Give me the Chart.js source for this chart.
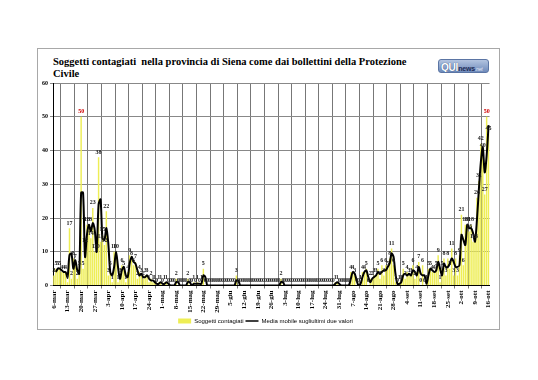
<!DOCTYPE html>
<html>
<head>
<meta charset="utf-8">
<script src="https://cdn.jsdelivr.net/npm/chart.js@4.4.0/dist/chart.umd.min.js"></script>
<style>
body{margin:0;background:#fff;width:538px;height:380px;overflow:hidden;position:relative;}
#frame{position:absolute;left:37px;top:48px;width:463px;height:282px;border:1px solid #a8a8a8;box-sizing:border-box;}
#titolo{position:absolute;left:53px;top:56px;font:bold 10.5px/11.6px "Liberation Serif",serif;color:#000;white-space:pre;}
#logo{position:absolute;left:438px;top:59px;width:51px;height:14px;border-radius:3px;box-sizing:border-box;
  background:linear-gradient(#b3c4e0,#6f8bbb);border:1px solid #5b75a4;font-family:"Liberation Sans",sans-serif;
  line-height:12px;padding-left:2px;white-space:nowrap;overflow:hidden;letter-spacing:-0.2px;}
#logo .qui{color:#fff;font-weight:bold;font-size:10px;text-shadow:0 0 1px #243b6b;}
#logo .news{color:#1d2b57;font-weight:bold;font-size:7px;}
#logo .net{color:#e5ecf7;font-size:5px;font-style:italic;}
#wrap{position:absolute;left:38px;top:49px;width:461px;height:285px;}
</style>
</head>
<body>
<div id="frame"></div>
<div id="titolo">Soggetti contagiati  nella provincia di Siena come dai bollettini della Protezione
Civile</div>
<div id="logo"><span class="qui">QUI</span><span class="news">news</span><span class="net">.net</span></div>
<div id="wrap"><canvas id="chart"></canvas></div>
<script>
const tickLabels = ['6-mar','13-mar','20-mar','27-mar','3-apr','10-apr','17-apr','24-apr',
  '1-mag','8-mag','15-mag','22-mag','29-mag','5-giu','12-giu','19-giu','26-giu',
  '3-lug','10-lug','17-lug','24-lug','31-lug','7-ago','14-ago','21-ago','28-ago',
  '4-set','11-set','18-set','25-set','2-ott','9-ott','16-ott'];

// nuovi contagiati giornalieri (dal 6 marzo)
const marzo = [3,5,5,5,4,4,4,1,17,2,8,7,2,5,50,5,12,18,18,14,23,10,10,38,13,15];
const aprile = [12,22,3,5,1,10,10,1,3,6,5,1,4,9,8,6,7,2,4,3,2,3,3,1,2,1,1,0,1,1];
const maggio = [0,1,1,0,0,0,0,2,0,0,0,0,0,2,0,0,1,0,1,0,1,5,0,0,0,0,0,0,0,0,0];
const giugno = [0,0,0,0,0,0,0,3,0,0,0,0,0,0,0,0,0,0,0,0,0,0,0,0,0,0,0,0,0,0];
const luglio = [2,0,0,0,0,0,0,0,0,0,0,0,0,0,0,0,0,0,0,0,0,0,0,0,0,0,0,0,1,1,0];
const agosto = [0,0,0,0,0,4,4,3,0,0,1,4,4,5,0,2,2,3,3,5,2,6,3,6,5,8,11,6,1,0,1];
const settembre = [1,5,2,4,3,3,6,2,4,7,0,6,0,1,5,5,4,4,5,9,1,5,8,3,8,5,11,3,8,3];
const ottobre = [9,21,6,18,18,16,18,13,13,26,31,42,40,27,50,45];

const contagiati = [].concat(marzo, aprile, maggio, giugno, luglio, agosto, settembre, ottobre);
const giorni = contagiati.map((v, i) => i);
// media mobile sugli ultimi due valori
const media = contagiati.map((v, i) => i === 0 ? null : (contagiati[i - 1] + v) / 2);

const etichette = {
  id: 'etichette',
  afterDatasetsDraw(chart) {
    const ctx = chart.ctx;
    const meta = chart.getDatasetMeta(0);
    ctx.save();
    ctx.font = 'bold 6px "Liberation Serif"';
    ctx.textAlign = 'center';
    ctx.textBaseline = 'bottom';
    meta.data.forEach((bar, i) => {
      const v = contagiati[i];
      ctx.fillStyle = v >= 50 ? '#d00000' : '#222';
      ctx.fillText(v, bar.x, bar.y - 2);
    });
    ctx.restore();
  }
};

new Chart(document.getElementById('chart'), {
  data: {
    labels: giorni,
    datasets: [
      {
        type: 'bar',
        label: 'Soggetti contagiati',
        data: contagiati,
        backgroundColor: '#eeee55',
        barPercentage: 0.75,
        categoryPercentage: 1,
        order: 1
      },
      {
        type: 'line',
        label: 'Media mobile sugliultimi due valori',
        data: media,
        borderColor: '#000',
        borderWidth: 2,
        pointRadius: 0,
        tension: 0.3,
        order: 0
      }
    ]
  },
  options: {
    responsive: true,
    maintainAspectRatio: false,
    animation: false,
    layout: {padding: {top: 34, right: 6, left: 0, bottom: 0}},
    plugins: {
      tooltip: {enabled: false},
      legend: {
        position: 'bottom',
        labels: {
          usePointStyle: true,
          pointStyleWidth: 13,
          boxHeight: 5,
          padding: 2,
          color: '#000',
          font: {family: '"Liberation Sans Narrow", "Liberation Sans"', size: 6},
          generateLabels(chart) {
            const items = Chart.defaults.plugins.legend.labels.generateLabels(chart);
            items.forEach(it => {
              if (it.datasetIndex === 0) {
                it.pointStyle = 'rect';
                it.lineWidth = 0;
              } else {
                it.pointStyle = 'line';
                it.lineWidth = 1.5;
                it.strokeStyle = '#000';
              }
            });
            return items.sort((a, b) => a.datasetIndex - b.datasetIndex);
          }
        }
      }
    },
    scales: {
      x: {
        grid: {color: '#777', tickLength: 3},
        border: {color: '#000'},
        ticks: {
          autoSkip: false,
          maxRotation: 90,
          minRotation: 90,
          padding: 2,
          color: '#000',
          font: {family: '"Liberation Serif"', size: 7, weight: 'bold'},
          callback: (v, i) => i % 7 === 0 ? tickLabels[i / 7] : null
        },
        afterFit: s => { s.height = 30.5; }
      },
      y: {
        min: 0,
        max: 60,
        ticks: {
          stepSize: 10,
          padding: 2,
          color: '#000',
          font: {family: '"Liberation Serif"', size: 6, weight: 'bold'}
        },
        grid: {color: '#888', tickLength: 3},
        border: {color: '#000'},
        afterFit: s => { s.width = 15; }
      }
    }
  },
  plugins: [etichette]
});
</script>
</body>
</html>
